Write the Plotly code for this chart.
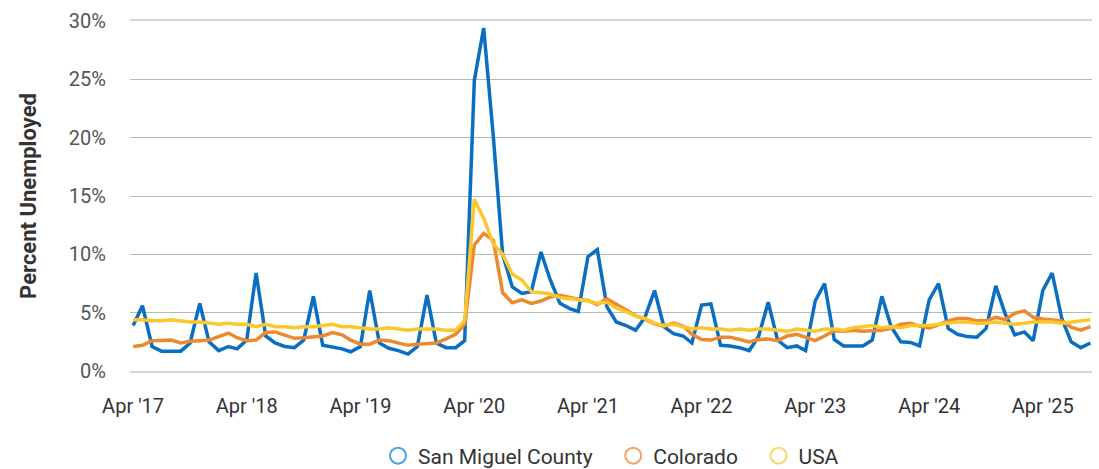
import plotly.graph_objects as go
import pandas as pd

months = pd.date_range("2017-04-01", "2025-09-01", freq="MS")

san_miguel = [
    3.9, 5.6, 2.1, 1.7, 1.7, 1.7, 2.4, 5.8, 2.5,
    1.75, 2.1, 1.9, 2.65, 8.4, 3.0, 2.4, 2.1, 2.0, 2.65, 6.4, 2.2,
    2.05, 1.9, 1.65, 2.1, 6.9, 2.4, 1.95, 1.75, 1.45, 2.1, 6.5, 2.4,
    2.0, 2.0, 2.6, 24.9, 29.4, 20.1, 10.0, 7.2, 6.65, 6.8, 10.2, 7.8,
    5.8, 5.35, 5.1, 9.8, 10.4, 5.5, 4.2, 3.9, 3.5, 4.6, 6.9, 3.8,
    3.2, 3.0, 2.4, 5.65, 5.75, 2.2, 2.15, 2.0, 1.75, 2.95, 5.9, 2.65,
    2.0, 2.15, 1.75, 6.0, 7.5, 2.7, 2.15, 2.15, 2.15, 2.65, 6.4, 3.8,
    2.5, 2.45, 2.15, 6.1, 7.5, 3.65, 3.15, 2.95, 2.9, 3.65, 7.3, 4.9,
    3.1, 3.35, 2.6, 6.9, 8.4, 4.5, 2.5, 2.0, 2.4,
]

colorado = [
    2.1, 2.2, 2.6, 2.65, 2.65, 2.4, 2.55, 2.6, 2.65,
    2.95, 3.25, 2.85, 2.6, 2.65, 3.3, 3.35, 3.05, 2.8, 2.85, 2.9, 3.0,
    3.3, 3.1, 2.65, 2.3, 2.3, 2.65, 2.6, 2.4, 2.2, 2.3, 2.35, 2.4,
    2.75, 3.15, 4.0, 10.8, 11.8, 11.2, 6.7, 5.85, 6.1, 5.8, 6.0, 6.35,
    6.5, 6.3, 6.15, 6.05, 5.7, 6.2, 5.7, 5.25, 4.75, 4.45, 4.05, 3.85,
    4.1, 3.85, 3.15, 2.7, 2.65, 2.9, 2.9, 2.7, 2.5, 2.7, 2.75, 2.6,
    3.0, 3.15, 2.9, 2.6, 3.0, 3.45, 3.4, 3.5, 3.4, 3.45, 3.5, 3.65,
    4.0, 4.1, 3.85, 3.7, 3.95, 4.3, 4.5, 4.5, 4.3, 4.3, 4.6, 4.4,
    4.95, 5.15, 4.6, 4.45, 4.4, 4.3, 3.75, 3.5, 3.8,
]

usa = [
    4.4, 4.4, 4.3, 4.3, 4.4, 4.3, 4.2, 4.2, 4.1,
    4.0, 4.1, 4.0, 4.0, 3.8, 4.0, 3.8, 3.8, 3.7, 3.8, 3.8, 3.9,
    4.0, 3.8, 3.8, 3.7, 3.6, 3.6, 3.7, 3.6, 3.5, 3.6, 3.6, 3.6,
    3.5, 3.5, 4.3, 14.7, 13.1, 10.9, 10.0, 8.3, 7.8, 6.8, 6.7, 6.6,
    6.3, 6.2, 6.1, 6.0, 5.8, 5.9, 5.4, 5.1, 4.7, 4.5, 4.1, 3.9,
    4.0, 3.8, 3.6, 3.7, 3.6, 3.6, 3.5, 3.6, 3.5, 3.6, 3.6, 3.5,
    3.4, 3.6, 3.5, 3.4, 3.6, 3.6, 3.5, 3.7, 3.8, 3.9, 3.7, 3.8,
    3.7, 3.9, 3.9, 3.9, 4.0, 4.1, 4.2, 4.2, 4.1, 4.1, 4.2, 4.1,
    4.0, 4.1, 4.2, 4.2, 4.2, 4.1, 4.2, 4.3, 4.4,
]

series_names = ["San Miguel County", "Colorado", "USA"]
line_colors = ["#0a6fc2", "#eb8a2e", "#fcc72c"]
legend_colors = ["#4f9fde", "#f0a566", "#fdd866"]
legend_pad = ["\u00a0\u00a0\u00a0", "\u00a0\u00a0\u00a0", ""]

tick_vals = pd.date_range("2017-04-01", "2025-04-01", freq="12MS")
tick_text = ["Apr '17", "Apr '18", "Apr '19", "Apr '20", "Apr '21",
             "Apr '22", "Apr '23", "Apr '24", "Apr '25"]
y_ticks = [0, 5, 10, 15, 20, 25, 30]
y_text = ["0%", "5%", "10%", "15%", "20%", "25%", "30%"]

fig = go.Figure()
for name, vals, col in zip(series_names, [san_miguel, colorado, usa], line_colors):
    fig.add_trace(go.Scatter(x=months, y=vals, mode="lines", name=name,
                             line=dict(color=col, width=3.5), showlegend=False))

for name, col, pad in zip(series_names, legend_colors, legend_pad):
    fig.add_trace(go.Scatter(x=[None], y=[None], mode="markers", name=name + pad,
                             marker=dict(symbol="circle-open", size=20, color=col,
                                         line=dict(width=2, color=col))))

fig.update_layout(
    width=1099, height=469,
    margin=dict(l=130, r=7, t=21, b=98),
    paper_bgcolor="white", plot_bgcolor="white",
    font=dict(family="Roboto", size=20, color="#444"),
    showlegend=True,
    legend=dict(orientation="h", x=0.5, xanchor="center", xref="paper",
                y=1 - 456 / 469, yanchor="middle", yref="container",
                font=dict(size=21, color="#333"), itemwidth=30),
    xaxis=dict(
        range=["2017-03-22", "2025-09-06"], automargin=False,
        tickmode="array", tickvals=tick_vals, ticktext=tick_text,
        showgrid=False, showline=True, mirror=True, linecolor="#d6d6d6", linewidth=2,
        tickfont=dict(size=20, color="#333"), ticks="", zeroline=False,
        ticklabelstandoff=16,
    ),
    yaxis=dict(
        range=[0, 30], automargin=False, tickmode="array", tickvals=y_ticks, ticktext=y_text,
        showgrid=True, gridcolor="#b8b8b8", gridwidth=1, zeroline=False,
        tickfont=dict(size=20, color="#555"), ticklabelstandoff=23,
        title=dict(text="<b>Percent Unemployed</b>", font=dict(size=22, color="#333"), standoff=26),
    ),
)

fig.write_html("out.html", config={"displayModeBar": False},
               post_script="document.body.style.margin='0';document.body.style.overflow='hidden';")
